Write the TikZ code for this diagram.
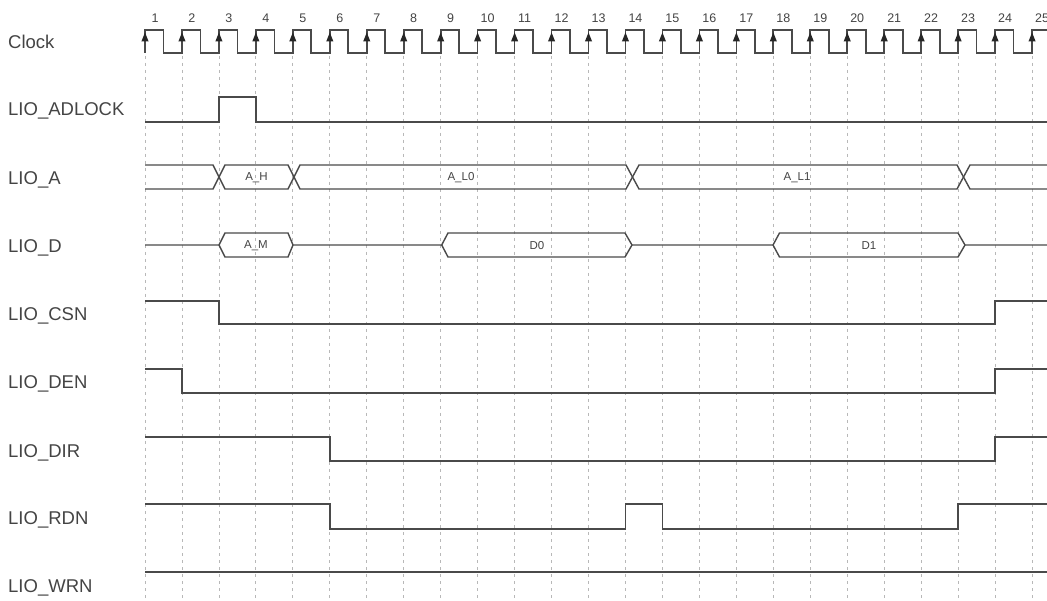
\documentclass[tikz,border=0pt]{standalone}
\usepackage{fontspec}
\setmainfont{Liberation Sans}
\definecolor{sig}{HTML}{4A4A4A}
\definecolor{gridc}{HTML}{B8B8B8}
\definecolor{txt}{HTML}{444444}
\tikzset{
  wave/.style={draw=sig, line width=1.7pt, line join=miter},
  bus/.style={draw=sig, line width=1.4pt, line join=miter},
  gridline/.style={draw=gridc, line width=0.8pt, dash pattern=on 3pt off 4pt},
  siglabel/.style={anchor=base west, inner sep=0pt, text=txt, font=\fontsize{18.5}{19}\selectfont},
  numlabel/.style={anchor=base, inner sep=0pt, text=txt, font=\fontsize{12.5}{13}\selectfont},
  buslabel/.style={inner sep=0pt, text=txt, font=\fontsize{11.5}{12}\selectfont},
  clkarrow/.style={fill=black!85},
}
\newcommand\ex[1]{145+(#1-1)*36.96}
\begin{document}
\begin{tikzpicture}[x=1pt,y=-1pt]
\useasboundingbox (0,0) rectangle (1047,601);
\fill[white] (0,0) rectangle (1047,601);
\clip (0,0) rectangle (1047,601);
% grid lines and cycle numbers
\foreach \k in {1,...,25} {
  \draw[gridline] ({\ex{\k}},56) -- ({\ex{\k}},601);
  \node[numlabel] (n\k) at ({\ex{\k}+10},22.5) {\k};
}
% signal names
\node[siglabel] (lclk) at (8,48.5) {Clock};
\node[siglabel] (ladl) at (8,116) {LIO\_ADLOCK};
\node[siglabel] (la)   at (8,184.5) {LIO\_A};
\node[siglabel] (ld)   at (8,253) {LIO\_D};
\node[siglabel] (lcsn) at (8,321) {LIO\_CSN};
\node[siglabel] (lden) at (8,389) {LIO\_DEN};
\node[siglabel] (ldir) at (8,457) {LIO\_DIR};
\node[siglabel] (lrdn) at (8,524) {LIO\_RDN};
\node[siglabel] (lwrn) at (8,592) {LIO\_WRN};
% clock
\draw[wave] (145,53) \foreach \k in {1,...,25} { -- ({\ex{\k}},53) -- ({\ex{\k}},30) -- ({\ex{\k}+18.48},30) -- ({\ex{\k}+18.48},53) };
\foreach \k in {1,...,25} {
  \fill[clkarrow] ({\ex{\k}},32.5) -- ++(3.6,9) -- ++(-7.2,0) -- cycle;
}
% LIO_ADLOCK
\draw[wave] (145,122) -- ({\ex{3}},122) -- ({\ex{3}},97) -- ({\ex{4}},97) -- ({\ex{4}},122) -- (1047,122);
% LIO_A bus
\draw[bus] (145,165) -- (213,165) -- (225,189) -- (288,189) -- (300,165) -- (626,165) -- (639,189) -- (957,189) -- (970,165) -- (1047,165);
\draw[bus] (145,189) -- (213,189) -- (225,165) -- (288,165) -- (300,189) -- (626,189) -- (639,165) -- (957,165) -- (970,189) -- (1047,189);
\node[buslabel] (aH)  at (256.5,177.5) {A\_H};
\node[buslabel] (aL0) at (461,177.5) {A\_L0};
\node[buslabel] (aL1) at (797,177.5) {A\_L1};
% LIO_D bus
\draw[bus] (145,245) -- (219,245) -- (225,233) -- (288,233) -- (293,245) -- (441.7,245) -- (448,233) -- (625,233) -- (632,245) -- (773,245) -- (779.5,233) -- (958,233) -- (965,245) -- (1047,245);
\draw[bus] (219,245) -- (225,257) -- (288,257) -- (293,245);
\draw[bus] (441.7,245) -- (448,257) -- (625,257) -- (632,245);
\draw[bus] (773,245) -- (779.5,257) -- (958,257) -- (965,245);
\node[buslabel] (dAM) at (256,245.5) {A\_M};
\node[buslabel] (dD0) at (537,245.5) {D0};
\node[buslabel] (dD1) at (869,245.5) {D1};
% control signals
\draw[wave] (145,301) -- ({\ex{3}},301) -- ({\ex{3}},324) -- ({\ex{24}},324) -- ({\ex{24}},301) -- (1047,301);
\draw[wave] (145,369) -- ({\ex{2}},369) -- ({\ex{2}},393) -- ({\ex{24}},393) -- ({\ex{24}},369) -- (1047,369);
\draw[wave] (145,437) -- ({\ex{6}},437) -- ({\ex{6}},461) -- ({\ex{24}},461) -- ({\ex{24}},437) -- (1047,437);
\draw[wave] (145,504) -- ({\ex{6}},504) -- ({\ex{6}},529) -- ({\ex{14}},529) -- ({\ex{14}},504) -- ({\ex{15}},504) -- ({\ex{15}},529) -- ({\ex{23}},529) -- ({\ex{23}},504) -- (1047,504);
\draw[wave] (145,572) -- (1047,572);
\end{tikzpicture}
\end{document}
